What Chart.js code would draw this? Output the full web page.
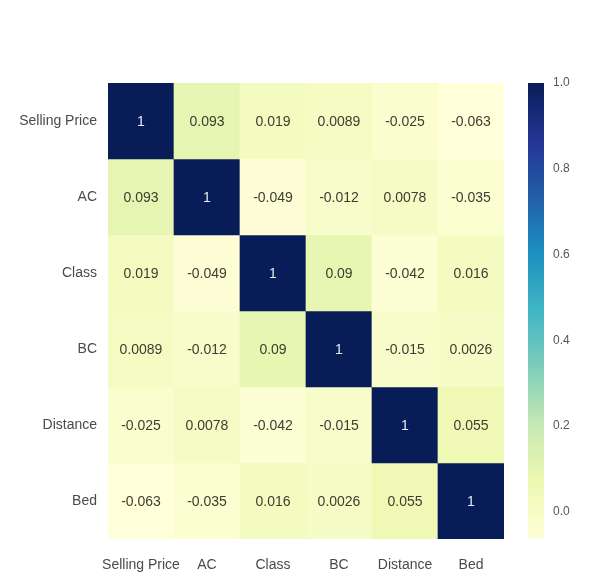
<!DOCTYPE html>
<html><head><meta charset="utf-8">
<script src="https://cdn.jsdelivr.net/npm/chart.js@4"></script>
<style>html,body{margin:0;padding:0;background:#fff;}</style>
</head><body>
<canvas id="c" width="589" height="576"></canvas>
<script>
// ---- data ----
const labels = ['Selling Price', 'AC', 'Class', 'BC', 'Distance', 'Bed'];
const rowSellingPrice = [1, 0.093, 0.019, 0.0089, -0.025, -0.063];
const rowAC          = [0.093, 1, -0.049, -0.012, 0.0078, -0.035];
const rowClass       = [0.019, -0.049, 1, 0.09, -0.042, 0.016];
const rowBC          = [0.0089, -0.012, 0.09, 1, -0.015, 0.0026];
const rowDistance    = [-0.025, 0.0078, -0.042, -0.015, 1, 0.055];
const rowBed         = [-0.063, -0.035, 0.016, 0.0026, 0.055, 1];
const colorbarTicks  = [0.0, 0.2, 0.4, 0.6, 0.8, 1.0];
const vmin = -0.063, vmax = 1.0;

const rows = [rowSellingPrice, rowAC, rowClass, rowBC, rowDistance, rowBed];

// YlGnBu colormap
const cmap = ['#ffffd9','#edf8b1','#c7e9b4','#7fcdbb','#41b6c4','#1d91c0','#225ea8','#253494','#081d58'];
function hex2rgb(h){return [parseInt(h.substr(1,2),16),parseInt(h.substr(3,2),16),parseInt(h.substr(5,2),16)];}
const cmapRGB = cmap.map(hex2rgb);
function colorFor(v){
  let t = (v - vmin) / (vmax - vmin);
  t = Math.max(0, Math.min(1, t));
  const p = t * (cmapRGB.length - 1);
  const i = Math.min(cmapRGB.length - 2, Math.floor(p));
  const f = p - i;
  const a = cmapRGB[i], b = cmapRGB[i+1];
  const c = a.map((x,k)=>Math.round(x + (b[k]-x)*f));
  return `rgb(${c[0]},${c[1]},${c[2]})`;
}
function fmt(v){ return String(v); }

const FONT = '"Liberation Sans", Arial, sans-serif';

const datasets = rows.map((vals, r) => ({
  label: labels[r],
  data: vals.map(() => [r, r + 1]),
  values: vals,
  backgroundColor: vals.map(colorFor),
  borderWidth: 0,
  barPercentage: 1,
  categoryPercentage: 1,
  grouped: false
}));

const annotPlugin = {
  id: 'annot',
  afterDatasetsDraw(chart){
    const ctx = chart.ctx;
    ctx.save();
    ctx.font = '14px ' + FONT;
    ctx.textAlign = 'center';
    ctx.textBaseline = 'middle';
    chart.data.datasets.forEach((ds, i) => {
      const meta = chart.getDatasetMeta(i);
      meta.data.forEach((el, j) => {
        const v = ds.values[j];
        const cy = (el.y + el.base) / 2;
        ctx.fillStyle = v > 0.5 ? '#e6ecf4' : '#3d3d30';
        ctx.fillText(fmt(v), el.x, cy + 1);
      });
    });
    ctx.restore();
  }
};

const colorbarPlugin = {
  id: 'colorbar',
  afterDraw(chart){
    const s = chart.scales.cb;
    const ctx = chart.ctx;
    const x0 = s.left + 24, w = 16;
    const top = s.getPixelForValue(vmax), bot = s.getPixelForValue(vmin);
    const g = ctx.createLinearGradient(0, bot, 0, top);
    cmap.forEach((c, k) => g.addColorStop(k / (cmap.length - 1), c));
    ctx.save();
    ctx.fillStyle = g;
    ctx.fillRect(x0, top, w, bot - top);
    ctx.restore();
  }
};

new Chart(document.getElementById('c'), {
  type: 'bar',
  data: { labels, datasets },
  options: {
    responsive: false,
    animation: false,
    layout: { padding: { top: 83, left: 0, right: 0, bottom: 0 } },
    plugins: { legend: { display: false }, tooltip: { enabled: false } },
    scales: {
      x: {
        type: 'category',
        grid: { display: false },
        border: { display: false },
        ticks: { color: '#4a4a4a', font: { size: 14, family: FONT }, padding: 10, maxRotation: 0, autoSkip: false },
        afterFit(s){ s.height = 37; s.paddingLeft = 0; s.paddingRight = 0; }
      },
      y: {
        type: 'linear',
        min: 0, max: 6, reverse: true,
        grid: { display: false },
        border: { display: false },
        afterBuildTicks(s){ s.ticks = labels.map((_, i) => ({ value: i + 0.5 })); },
        ticks: {
          color: '#4a4a4a', padding: 3,
          font: { size: 14, family: FONT },
          callback: (v) => labels[Math.floor(v)]
        },
        afterFit(s){ s.width = 108; s.paddingTop = 0; s.paddingBottom = 0; }
      },
      cb: {
        type: 'linear',
        position: 'right',
        min: vmin, max: vmax,
        grid: { display: false, drawOnChartArea: false },
        border: { display: false },
        afterBuildTicks(s){ s.ticks = colorbarTicks.map(v => ({ value: v })); },
        ticks: {
          color: '#555', padding: 41,
          font: { size: 12, family: FONT },
          callback: (v) => Number(v).toFixed(1)
        },
        afterFit(s){ s.width = 85; s.paddingTop = 0; s.paddingBottom = 0; }
      }
    }
  },
  plugins: [annotPlugin, colorbarPlugin]
});
</script>
</body></html>
